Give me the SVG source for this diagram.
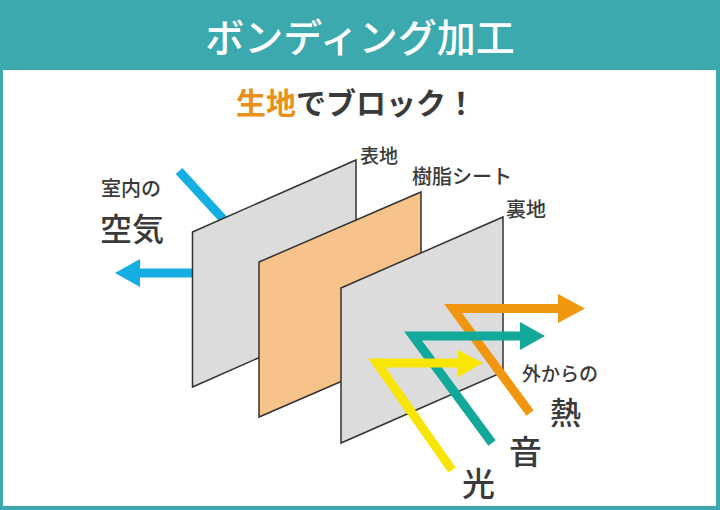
<svg xmlns="http://www.w3.org/2000/svg" width="720" height="510" viewBox="0 0 720 510">
<style>
.t{font-family:"Noto Sans CJK JP","Noto Sans",sans-serif;fill:#3a3a3a;font-weight:500}
.panel{stroke:#333;stroke-width:1.5;stroke-linejoin:miter}
.ln{fill:none;stroke-linejoin:miter;stroke-miterlimit:10}
</style>
<rect x="0" y="0" width="720" height="510" fill="#3BA9AD"/>
<rect x="3" y="70" width="713" height="436" fill="#ffffff"/>
<text x="360" y="52" text-anchor="middle" font-size="39" font-weight="500" fill="#ffffff" font-family="'Noto Sans CJK JP','Noto Sans',sans-serif">ボンディング加工</text>
<text class="t" x="356" y="114" text-anchor="middle" font-size="30" style="font-weight:bold"><tspan fill="#E8901A">生地</tspan>でブロック！</text>

<g id="air">
<line class="ln" x1="179" y1="171" x2="235" y2="232" stroke="#15AEE2" stroke-width="9"/>
<line class="ln" x1="138" y1="273" x2="210" y2="273" stroke="#15AEE2" stroke-width="9"/>
<polygon points="115,273 140,259 140,287" fill="#15AEE2"/>
<text class="t" x="101" y="196" font-size="20">室内の</text>
<text class="t" x="100" y="241" font-size="32">空気</text>
</g>

<g id="omote">
<polygon class="panel" points="192.5,232 356,160 356,315 192.5,387" fill="#DCDCDC"/>
<text class="t" x="360" y="163" font-size="19">表地</text>
</g>
<g id="jushi">
<polygon class="panel" points="259,262 421,192 421,347 259,417" fill="#F7C38A"/>
<text class="t" x="412" y="184" font-size="20">樹脂シート</text>
</g>
<g id="ura">
<polygon class="panel" points="341,288 503,217 503,372 341,443" fill="#DCDCDC"/>
<text class="t" x="506" y="217" font-size="20">裏地</text>
</g>

<g id="connectors">
<polyline class="ln" points="530,413 453,308.5 560,308.5" stroke="#F0960F" stroke-width="9"/>
<polygon points="558,294 585,308.5 558,323" fill="#F0960F"/>
<polyline class="ln" points="492,443 413,336 522,336" stroke="#12A89A" stroke-width="9"/>
<polygon points="520,322 545,336 520,350" fill="#12A89A"/>
<polyline class="ln" points="452,470 377,363 460,363" stroke="#F8E600" stroke-width="9"/>
<polygon points="458,350 483,363 458,377" fill="#F8E600"/>
</g>

<g id="labels">
<text class="t" x="522" y="381" font-size="19">外からの</text>
<text class="t" x="550" y="424" font-size="31">熱</text>
<text class="t" x="509" y="464" font-size="33">音</text>
<text class="t" x="462" y="496" font-size="33">光</text>
</g>
</svg>
